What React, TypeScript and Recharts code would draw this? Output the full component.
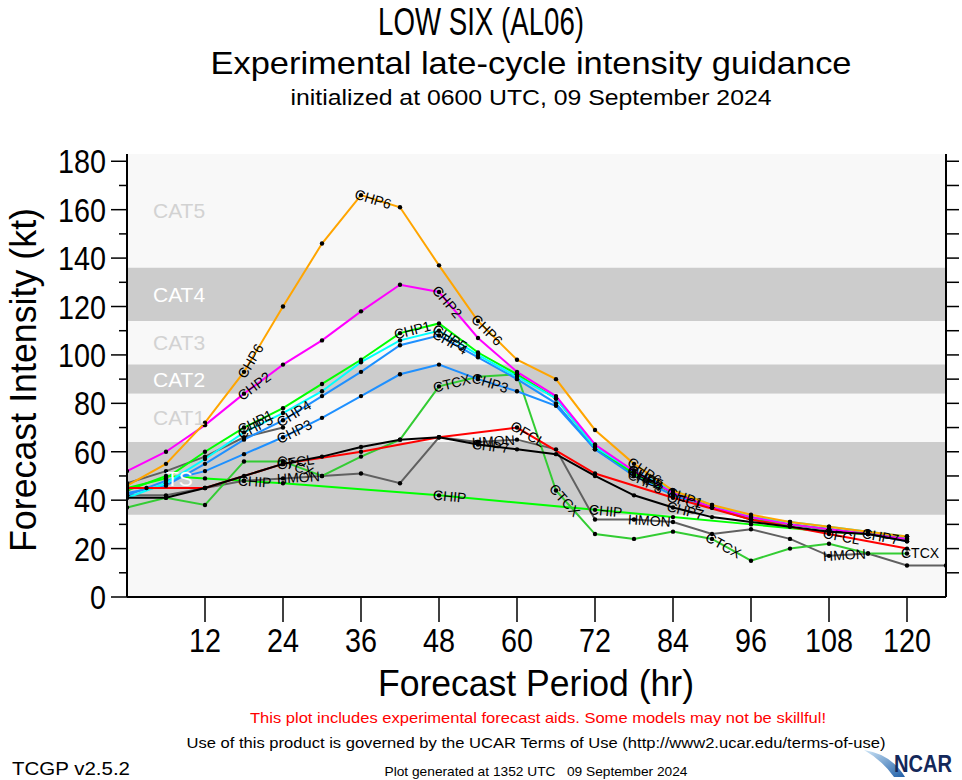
import React from 'react'
import { LineChart, Line, XAxis, YAxis, ReferenceArea } from 'recharts'

const FONT = "'Liberation Sans Narrow','Liberation Sans',Arial,sans-serif"

// forecast hours, 6-hourly
const HOURS = [0, 6, 12, 18, 24, 30, 36, 42, 48, 54, 60, 66, 72, 78, 84, 90, 96, 102, 108, 114, 120]
const HMON_HOURS = [0, 6, 12, 18, 24, 30, 36, 42, 48, 54, 60, 66, 72, 78, 84, 90, 96, 102, 108, 114, 120, 126]
const OFCL_HOURS = [0, 3, 12, 24, 36, 48, 60, 72, 84, 96, 108, 120]
const CHIP_HOURS = [0, 6, 12, 18, 24, 48, 72, 84, 96, 108, 120]
const AUX_HOURS = [0, 6, 12, 18, 24]

// intensities (kt)
const CHP6 = [46, 55, 72, 93, 120, 146, 166, 161, 137, 114, 98, 90, 69, 55, 44, 38, 34, 31, 29, 27, 25]
const CHP2 = [52, 60, 71, 84, 96, 106, 118, 129, 126, 107, 93, 83, 63, 52, 43, 37, 33, 30, 28, 26, 24]
const CHP1 = [45, 49, 60, 70, 78, 88, 98, 109, 113, 101, 92, 82, 62, 51, 43, 37, 32, 30, 28, 26, 24]
const CHP5 = [41, 47, 57, 68, 76, 85, 97, 106, 110, 100, 91, 82, 62, 52, 44, 38, 33, 31, 29, 27, 25]
const CHP4 = [43, 46, 55, 65, 73, 83, 93, 104, 108, 99, 90, 80, 61, 51, 43, 37, 33, 30, 28, 26, 24]
const CHP3 = [42, 48, 52, 59, 66, 74, 83, 92, 96, 90, 85, 79, 61, 50, 42, 37, 32, 30, 28, 26, 23]
const CHP7 = [41, 41, 45, 50, 55, 58, 62, 65, 66, 63, 61, 59, 50, 42, 37, 33, 31, 29, 27, 26, 23]
const CTCX = [37, 41, 38, 56, 56, 50, 58, 65, 87, 91, 92, 44, 26, 24, 27, 24, 15, 20, 22, 18, 18]
const HMON = [42, 42, 45, 48, 49, 50, 51, 47, 66, 64, 65, 61, 32, 32, 31, 26, 28, 24, 17, 18, 13, 13]
const OFCL = [45, 45, 45, 55, 60, 66, 70, 51, 41, 32, 26, 20]
const CHIP = [44, 50, 49, 48, 47, 42, 36, 33, 30, 27, 25]
const AUX = [47, 52, 58, 66, 70]

const X_TICKS = [12, 24, 36, 48, 60, 72, 84, 96, 108, 120]
const Y_TICKS = [0, 10, 20, 30, 40, 50, 60, 70, 80, 90, 100, 110, 120, 130, 140, 150, 160, 170, 180]
const Y_RIGHT_TICKS = [10, 20, 30, 40, 50, 60, 70, 80, 90, 100, 110, 120, 130, 140, 150, 160, 170, 180]

// Saffir-Simpson bands (kt)
const BAND_NAMES = ['CAT5', 'CAT4', 'CAT3', 'CAT2', 'CAT1', 'TS']
const BAND_LOW = [136, 114, 96, 84, 64, 34]
const BAND_HIGH = [183, 136, 114, 96, 84, 64]

const LIGHT = '#f8f8f8'
const SHADE = '#cccccc'

const pts = (hrs: number[], vals: number[]) => hrs.map((h, i) => ({ h, v: vals[i] }))

const SERIES = [
  { name: 'CHIP', color: '#00ff00', data: pts(CHIP_HOURS, CHIP), labels: [3, 5, 6] },
  { name: 'HMON', color: '#606060', data: pts(HMON_HOURS, HMON), labels: [4, 9, 13, 18] },
  { name: 'CTCX', color: '#33cc33', data: pts(HOURS, CTCX), labels: [4, 8, 11, 15, 20] },
  { name: '', color: '#606060', data: pts(AUX_HOURS, AUX), labels: [] },
  { name: 'CHP3', color: '#1e90ff', data: pts(HOURS, CHP3), labels: [4, 9, 13] },
  { name: 'CHP4', color: '#1e90ff', data: pts(HOURS, CHP4), labels: [4, 8, 13] },
  { name: 'CHP1', color: '#00ff00', data: pts(HOURS, CHP1), labels: [3, 7, 14] },
  { name: 'CHP5', color: '#00ffff', data: pts(HOURS, CHP5), labels: [3, 8, 13] },
  { name: 'CHP2', color: '#ff00ff', data: pts(HOURS, CHP2), labels: [3, 8, 13] },
  { name: 'CHP6', color: '#ffa500', data: pts(HOURS, CHP6), labels: [3, 6, 9, 13] },
  { name: 'OFCL', color: '#ff0000', data: pts(OFCL_HOURS, OFCL), labels: [3, 6, 8, 10] },
  { name: 'CHP7', color: '#000000', data: pts(HOURS, CHP7), labels: [9, 14, 19] },
]

function makeDot(name: string, labels: number[]) {
  return (props: any) => {
    const { cx, cy, index, points } = props
    if (cx == null || cy == null) return <g key={`${name}-d-${index}`} />
    let label = null
    if (labels.includes(index)) {
      let ang = 0
      if (points && points.length > 1) {
        const i = Math.min(index, points.length - 2)
        const a = points[i]
        const b = points[i + 1]
        ang = (Math.atan2(b.y - a.y, b.x - a.x) * 180) / Math.PI
      }
      label = (
        <text
          x={cx - 6}
          y={cy + 5}
          transform={`rotate(${ang} ${cx} ${cy})`}
          fontSize={14}
          fontFamily={FONT}
          fill="#000"
        >
          {name}
        </text>
      )
    }
    return (
      <g key={`${name}-d-${index}`}>
        <circle cx={cx} cy={cy} r={2.2} fill="#000" />
        {label}
      </g>
    )
  }
}

function LeftTick(props: any) {
  const { x, y, payload } = props
  const v = payload.value
  const major = v % 20 === 0
  const s = String(v)
  return (
    <g>
      <line x1={x - (major ? 16 : 8)} x2={x} y1={y} y2={y} stroke="#000" strokeWidth={1.5} />
      {major && (
        <text x={x - 21} y={y + 12} textAnchor="end" fontSize={33} fontFamily={FONT}
          textLength={s.length * 16} lengthAdjust="spacingAndGlyphs" fill="#000">{s}</text>
      )}
    </g>
  )
}

function RightTick(props: any) {
  const { x, y } = props
  return <line x1={x} x2={x + 13} y1={y} y2={y} stroke="#000" strokeWidth={1.5} />
}

function BottomTick(props: any) {
  const { x, y, payload } = props
  const s = String(payload.value)
  return (
    <g>
      <line x1={x} x2={x} y1={y} y2={y + 25} stroke="#000" strokeWidth={1.5} />
      <text x={x} y={y + 55} textAnchor="middle" fontSize={33} fontFamily={FONT}
        textLength={s.length * 16} lengthAdjust="spacingAndGlyphs" fill="#000">{s}</text>
    </g>
  )
}

function TopTick(props: any) {
  const { x, y } = props
  return <line x1={x} x2={x} y1={y - 13} y2={y} stroke="#000" strokeWidth={1.5} />
}

function Txt({ x, y, size, len, children, fill = '#000', anchor = 'middle', weight = 'normal', rotate }: any) {
  return (
    <text x={x} y={y} fontSize={size} fontFamily={FONT} fill={fill} textAnchor={anchor} fontWeight={weight}
      textLength={len} lengthAdjust="spacingAndGlyphs"
      transform={rotate ? `rotate(${rotate} ${x} ${y})` : undefined}>
      {children}
    </text>
  )
}

export default function App() {
  const axisLine = { stroke: '#000', strokeWidth: 2 }
  return (
    <div style={{ position: 'relative', width: 962, height: 780, background: '#fff' }}>
      <style>{'body{margin:0}'}</style>
      <LineChart width={962} height={780} margin={{ top: 154, right: 0, bottom: 0, left: 0 }}>
        <XAxis xAxisId={0} dataKey="h" type="number" domain={[0, 126]} ticks={X_TICKS} interval={0}
          height={183} tickSize={0} tickMargin={0} tickLine={false} axisLine={axisLine}
          tick={BottomTick} allowDataOverflow />
        <XAxis xAxisId="top" orientation="top" dataKey="h" type="number" domain={[0, 126]} ticks={X_TICKS}
          interval={0} height={0} tickSize={0} tickMargin={0} tickLine={false} axisLine={axisLine}
          tick={TopTick} allowDataOverflow />
        <YAxis yAxisId={0} type="number" domain={[0, 183]} ticks={Y_TICKS} interval={0} width={127}
          tickSize={0} tickMargin={0} tickLine={false} axisLine={axisLine} tick={LeftTick} allowDataOverflow />
        <YAxis yAxisId="right" orientation="right" type="number" domain={[0, 183]} ticks={Y_RIGHT_TICKS}
          interval={0} width={16} tickSize={0} tickMargin={0} tickLine={false} axisLine={axisLine}
          tick={RightTick} allowDataOverflow />

        <ReferenceArea x1={0} x2={126} y1={0} y2={183} fill={LIGHT} fillOpacity={1} stroke="none" />
        {BAND_NAMES.map((nm, i) => {
          const shaded = i % 2 === 1
          return (
            <ReferenceArea key={nm} x1={0} x2={126} y1={BAND_LOW[i]} y2={BAND_HIGH[i]}
              fill={shaded ? SHADE : LIGHT} fillOpacity={1} stroke="none"
              label={{
                value: nm, position: 'insideLeft', offset: nm === 'TS' ? 39 : 26,
                fill: shaded ? '#ffffff' : '#d2d2d2', fontSize: 21, fontFamily: FONT,
              }} />
          )
        })}

        {SERIES.map((s, i) => (
          <Line key={`s${i}`} data={s.data} dataKey="v" type="linear" stroke={s.color} strokeWidth={2}
            dot={makeDot(s.name, s.labels)} activeDot={false} isAnimationActive={false} />
        ))}
      </LineChart>

      <svg width={962} height={780} style={{ position: 'absolute', left: 0, top: 0, pointerEvents: 'none' }}>
        <defs>
          <linearGradient id="sw" x1="0" y1="0" x2="1" y2="1">
            <stop offset="0" stopColor="#cfe6f7" />
            <stop offset="1" stopColor="#1f5fa8" />
          </linearGradient>
        </defs>
        <Txt x={481} y={35} size={38} len={206}>LOW SIX (AL06)</Txt>
        <Txt x={531} y={74} size={32} len={641}>Experimental late-cycle intensity guidance</Txt>
        <Txt x={531} y={105} size={22} len={481}>initialized at 0600 UTC, 09 September 2024</Txt>
        <Txt x={36} y={380} size={37} len={344} rotate={-90}>Forecast Intensity (kt)</Txt>
        <Txt x={536} y={696} size={37} len={316}>Forecast Period (hr)</Txt>
        <Txt x={538} y={723} size={15} len={576} fill="#ff0000">
          This plot includes experimental forecast aids. Some models may not be skillful!
        </Txt>
        <Txt x={536} y={748} size={15} len={699}>
          Use of this product is governed by the UCAR Terms of Use (http://www2.ucar.edu/terms-of-use)
        </Txt>
        <Txt x={12} y={775} size={19} len={118} anchor="start">TCGP v2.5.2</Txt>
        <Txt x={536} y={776} size={13} len={303}>{'Plot generated at 1352 UTC\u00a0\u00a0\u00a009 September 2024'}</Txt>
        <path d="M864,750 Q891,754 905,777 L894,777 Q882,760 864,750 Z" fill="url(#sw)" />
        <Txt x={894} y={772} size={24} len={58} anchor="start" weight="bold" fill="#14285a">NCAR</Txt>
      </svg>
    </div>
  )
}
